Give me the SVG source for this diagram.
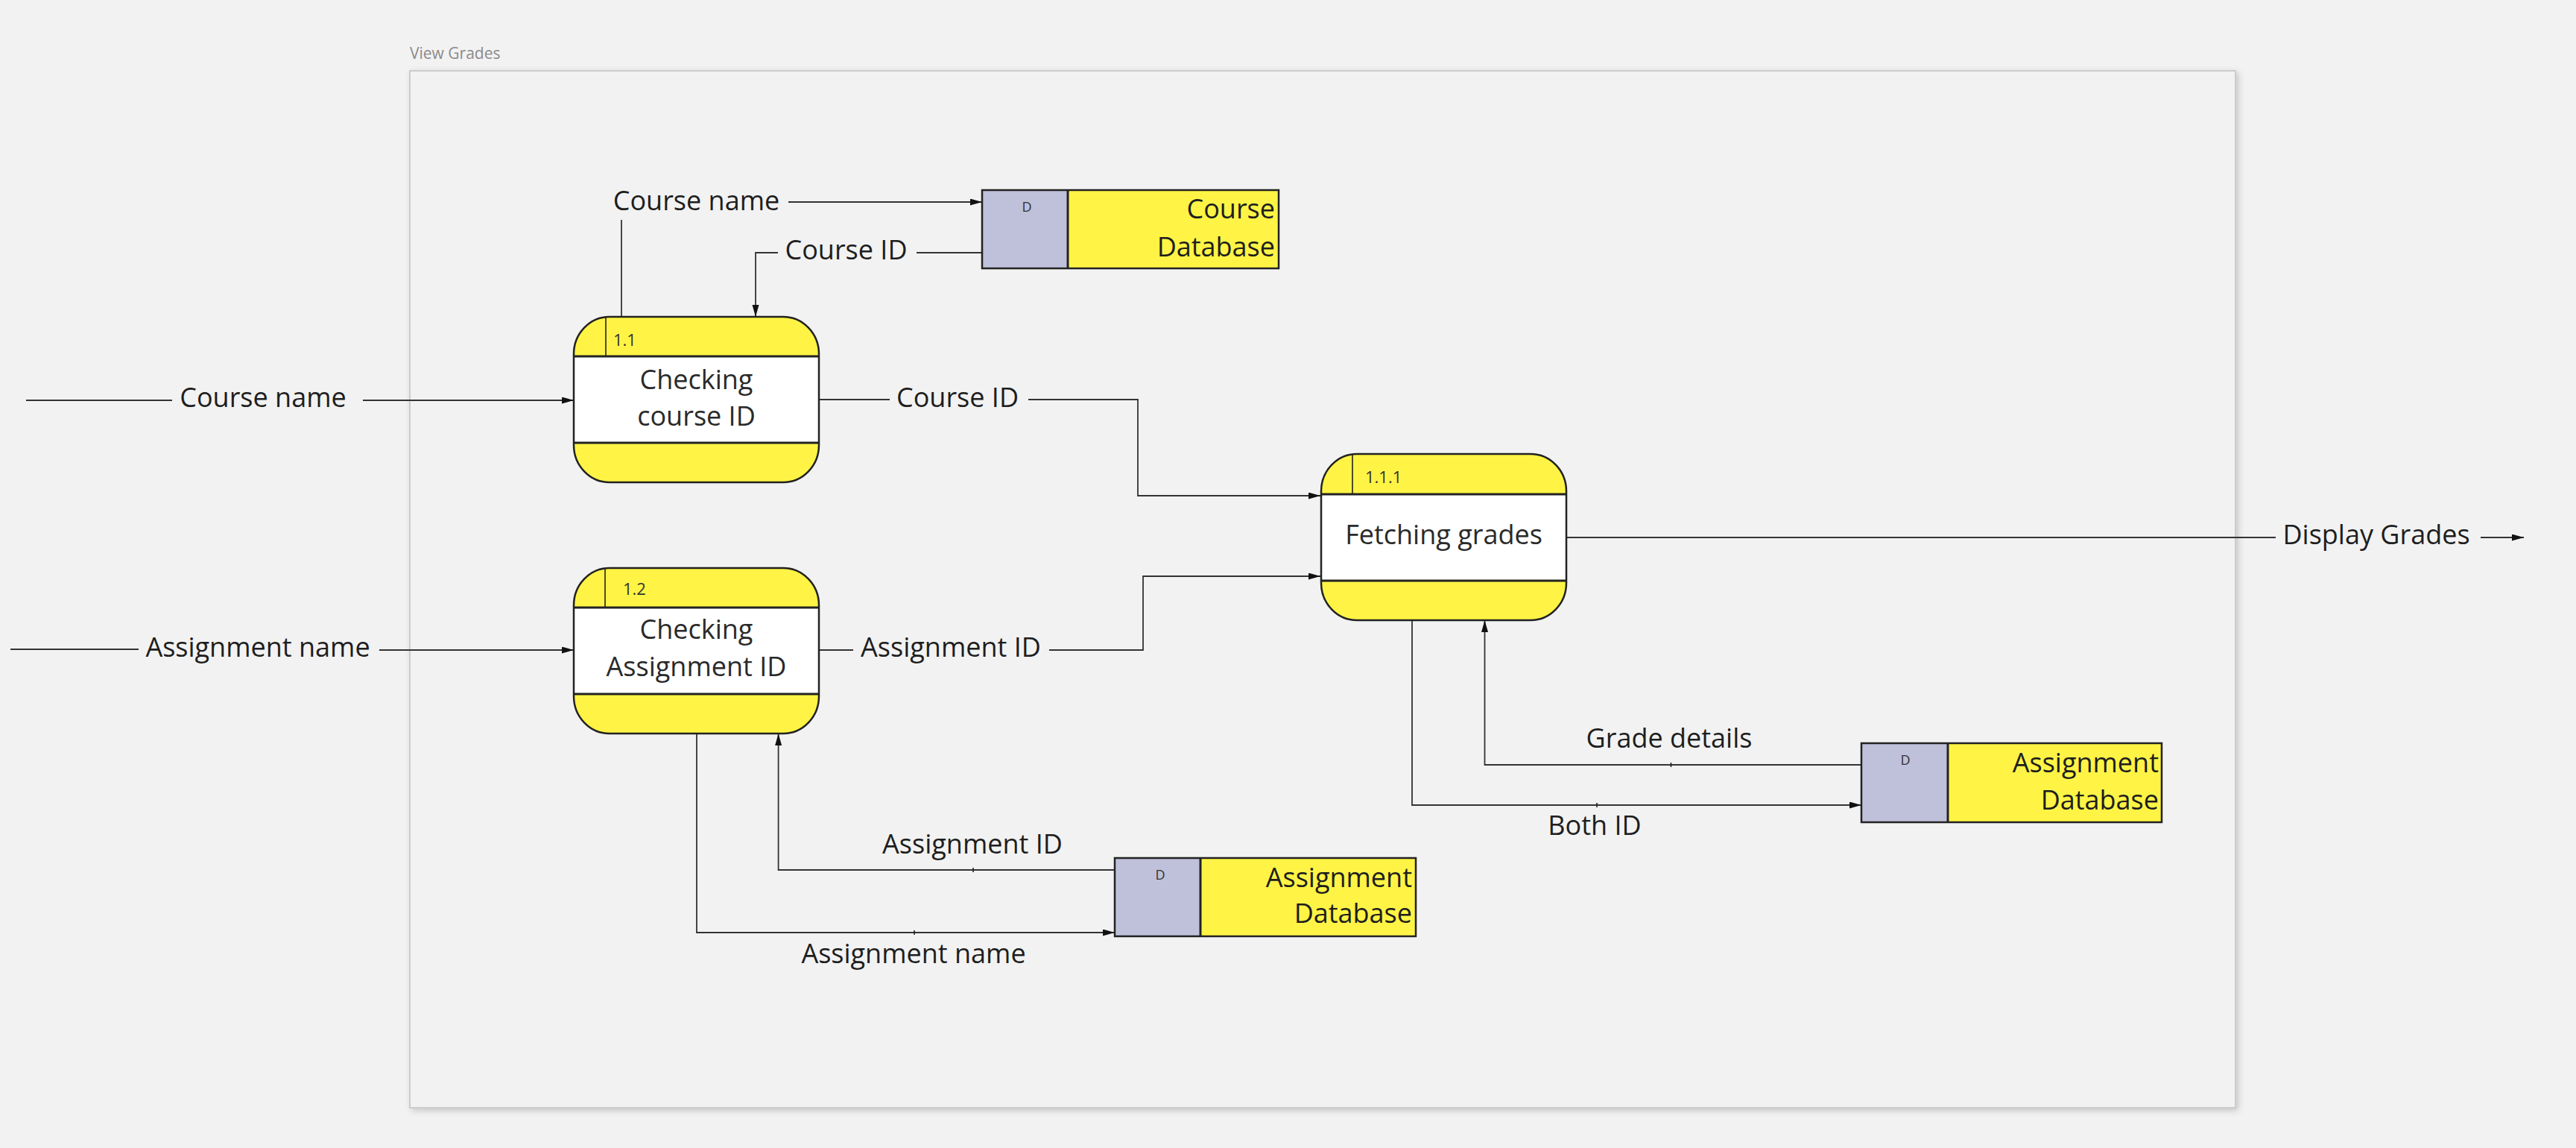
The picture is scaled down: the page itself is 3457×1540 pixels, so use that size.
<svg xmlns="http://www.w3.org/2000/svg" width="3457" height="1540" viewBox="0 0 3457 1540">
<style>
.lbl{font-family:"Open Sans","Liberation Sans",sans-serif;font-size:36px;fill:#1e1e1e;text-anchor:middle}
.ttl{font-family:"Open Sans","Liberation Sans",sans-serif;font-size:36px;fill:#2a2a2a;text-anchor:middle}
.num{font-family:"Open Sans","Liberation Sans",sans-serif;font-size:22px;fill:#333}
.dd{font-family:"Open Sans","Liberation Sans",sans-serif;font-size:18px;fill:#333;text-anchor:middle}
.st{font-family:"Open Sans","Liberation Sans",sans-serif;font-size:36px;fill:#1e1e1e;text-anchor:end}
.ln{fill:none;stroke:#333;stroke-width:1.8}
.arr{marker-end:url(#ah)}
.yel{fill:#fff445}
.out{fill:none;stroke:#222;stroke-width:2.5}
.div{stroke:#222;stroke-width:3}
.thin{stroke:#222;stroke-width:1.6}
</style>
<defs>
<marker id="ah" markerUnits="userSpaceOnUse" markerWidth="17" markerHeight="10" refX="16" refY="4.5" orient="auto">
<path d="M0,0 L16,4.5 L0,9 z" fill="#111"/>
</marker>
<filter id="sh" x="-5%" y="-5%" width="110%" height="110%">
<feDropShadow dx="3" dy="3" stdDeviation="4" flood-color="#000" flood-opacity="0.18"/>
</filter>
</defs>
<rect x="0" y="0" width="3457" height="1540" fill="#f2f2f2"/>
<g id="frame">
<text x="550" y="79" font-family="Open Sans, Liberation Sans, sans-serif" font-size="21" fill="#8a8a8a">View Grades</text>
<rect x="550" y="95" width="2450" height="1391" fill="#f2f2f2" stroke="#cccccc" stroke-width="2" filter="url(#sh)"/>
</g>
<g id="connectors">
<!-- Course name 1.1 -> Course DB -->
<path class="ln" d="M834,425 V295"/>
<path class="ln arr" d="M1058,271 H1318"/>
<text class="lbl" x="934.5" y="282">Course name</text>
<!-- Course ID Course DB -> 1.1 -->
<path class="ln" d="M1318,339 H1230"/>
<path class="ln arr" d="M1044,339 H1014 V425"/>
<text class="lbl" x="1135.5" y="348">Course ID</text>
<!-- external Course name -> 1.1 -->
<path class="ln" d="M35,537 H231"/>
<path class="ln arr" d="M487,537 H770"/>
<text class="lbl" x="353" y="546">Course name</text>
<!-- external Assignment name -> 1.2 -->
<path class="ln" d="M14,871 H186"/>
<path class="ln arr" d="M509,872 H770"/>
<text class="lbl" x="346" y="881">Assignment name</text>
<!-- Course ID 1.1 -> 1.1.1 -->
<path class="ln" d="M1099,536 H1194"/>
<path class="ln arr" d="M1380,536 H1527 V665 H1772"/>
<text class="lbl" x="1285" y="546">Course ID</text>
<!-- Assignment ID 1.2 -> 1.1.1 -->
<path class="ln" d="M1099,872 H1145"/>
<path class="ln arr" d="M1408,872 H1534 V773 H1772"/>
<text class="lbl" x="1276" y="881">Assignment ID</text>
<!-- Display Grades -->
<path class="ln" d="M2102,721 H3054"/>
<path class="ln arr" d="M3329,721 H3387"/>
<text class="lbl" x="3189" y="730">Display Grades</text>
<!-- Grade details: Assignment DB -> 1.1.1 -->
<path class="ln arr" d="M2498,1026 H1992.5 V832"/>
<path class="thin" d="M2242.5,1023 V1029"/>
<text class="lbl" x="2240" y="1003">Grade details</text>
<!-- Both ID: 1.1.1 -> Assignment DB -->
<path class="ln arr" d="M1895,832 V1080 H2498"/>
<path class="thin" d="M2143,1077 V1083"/>
<text class="lbl" x="2140" y="1120">Both ID</text>
<!-- Assignment ID: Assignment DB -> 1.2 -->
<path class="ln arr" d="M1496,1167 H1044.6 V984"/>
<path class="thin" d="M1306,1164 V1170"/>
<text class="lbl" x="1305" y="1145">Assignment ID</text>
<!-- Assignment name: 1.2 -> Assignment DB -->
<path class="ln arr" d="M935,984 V1251 H1496"/>
<path class="thin" d="M1227,1248 V1254"/>
<text class="lbl" x="1226" y="1292">Assignment name</text>
</g>
<g id="p11">
<rect class="yel" x="770" y="425" width="329" height="222" rx="48" ry="50"/>
<rect x="770" y="478" width="329" height="116" fill="#ffffff"/>
<line class="div" x1="770" y1="478" x2="1099" y2="478"/>
<line class="div" x1="770" y1="594" x2="1099" y2="594"/>
<line class="thin" x1="813" y1="426" x2="813" y2="478"/>
<rect class="out" x="770" y="425" width="329" height="222" rx="48" ry="50"/>
<text class="num" x="823" y="464">1.1</text>
<text class="ttl" x="934.5" y="522">Checking</text>
<text class="ttl" x="934.5" y="571">course ID</text>
</g>
<g id="p12">
<rect class="yel" x="770" y="762" width="329" height="222" rx="48" ry="50"/>
<rect x="770" y="815" width="329" height="116" fill="#ffffff"/>
<line class="div" x1="770" y1="815" x2="1099" y2="815"/>
<line class="div" x1="770" y1="931" x2="1099" y2="931"/>
<line class="thin" x1="812" y1="763" x2="812" y2="815"/>
<rect class="out" x="770" y="762" width="329" height="222" rx="48" ry="50"/>
<text class="num" x="836" y="798">1.2</text>
<text class="ttl" x="934.5" y="857">Checking</text>
<text class="ttl" x="934.5" y="907">Assignment ID</text>
</g>
<g id="p111">
<rect class="yel" x="1773" y="609" width="329" height="223" rx="48" ry="50"/>
<rect x="1773" y="663" width="329" height="116" fill="#ffffff"/>
<line class="div" x1="1773" y1="663" x2="2102" y2="663"/>
<line class="div" x1="1773" y1="779" x2="2102" y2="779"/>
<line class="thin" x1="1815" y1="610" x2="1815" y2="663"/>
<rect class="out" x="1773" y="609" width="329" height="223" rx="48" ry="50"/>
<text class="num" x="1832" y="648">1.1.1</text>
<text class="ttl" x="1937.5" y="730">Fetching grades</text>
</g>
<g id="courseDB">
<rect class="yel" x="1318" y="255" width="398" height="105"/>
<rect x="1318" y="255" width="115" height="105" fill="#bfc0da"/>
<line class="div" x1="1433" y1="255" x2="1433" y2="360"/>
<rect class="out" x="1318" y="255" width="398" height="105"/>
<text class="dd" x="1378" y="284">D</text>
<text class="st" x="1711" y="293">Course</text>
<text class="st" x="1711" y="344">Database</text>
</g>
<g id="assignDB1">
<rect class="yel" x="1496" y="1151" width="404" height="105"/>
<rect x="1496" y="1151" width="115" height="105" fill="#bfc0da"/>
<line class="div" x1="1611" y1="1151" x2="1611" y2="1256"/>
<rect class="out" x="1496" y="1151" width="404" height="105"/>
<text class="dd" x="1557" y="1180">D</text>
<text class="st" x="1895" y="1190">Assignment</text>
<text class="st" x="1895" y="1238">Database</text>
</g>
<g id="assignDB2">
<rect class="yel" x="2498" y="997" width="403" height="106"/>
<rect x="2498" y="997" width="116" height="106" fill="#bfc0da"/>
<line class="div" x1="2614" y1="997" x2="2614" y2="1103"/>
<rect class="out" x="2498" y="997" width="403" height="106"/>
<text class="dd" x="2557" y="1026">D</text>
<text class="st" x="2897" y="1036">Assignment</text>
<text class="st" x="2897" y="1086">Database</text>
</g>
</svg>
